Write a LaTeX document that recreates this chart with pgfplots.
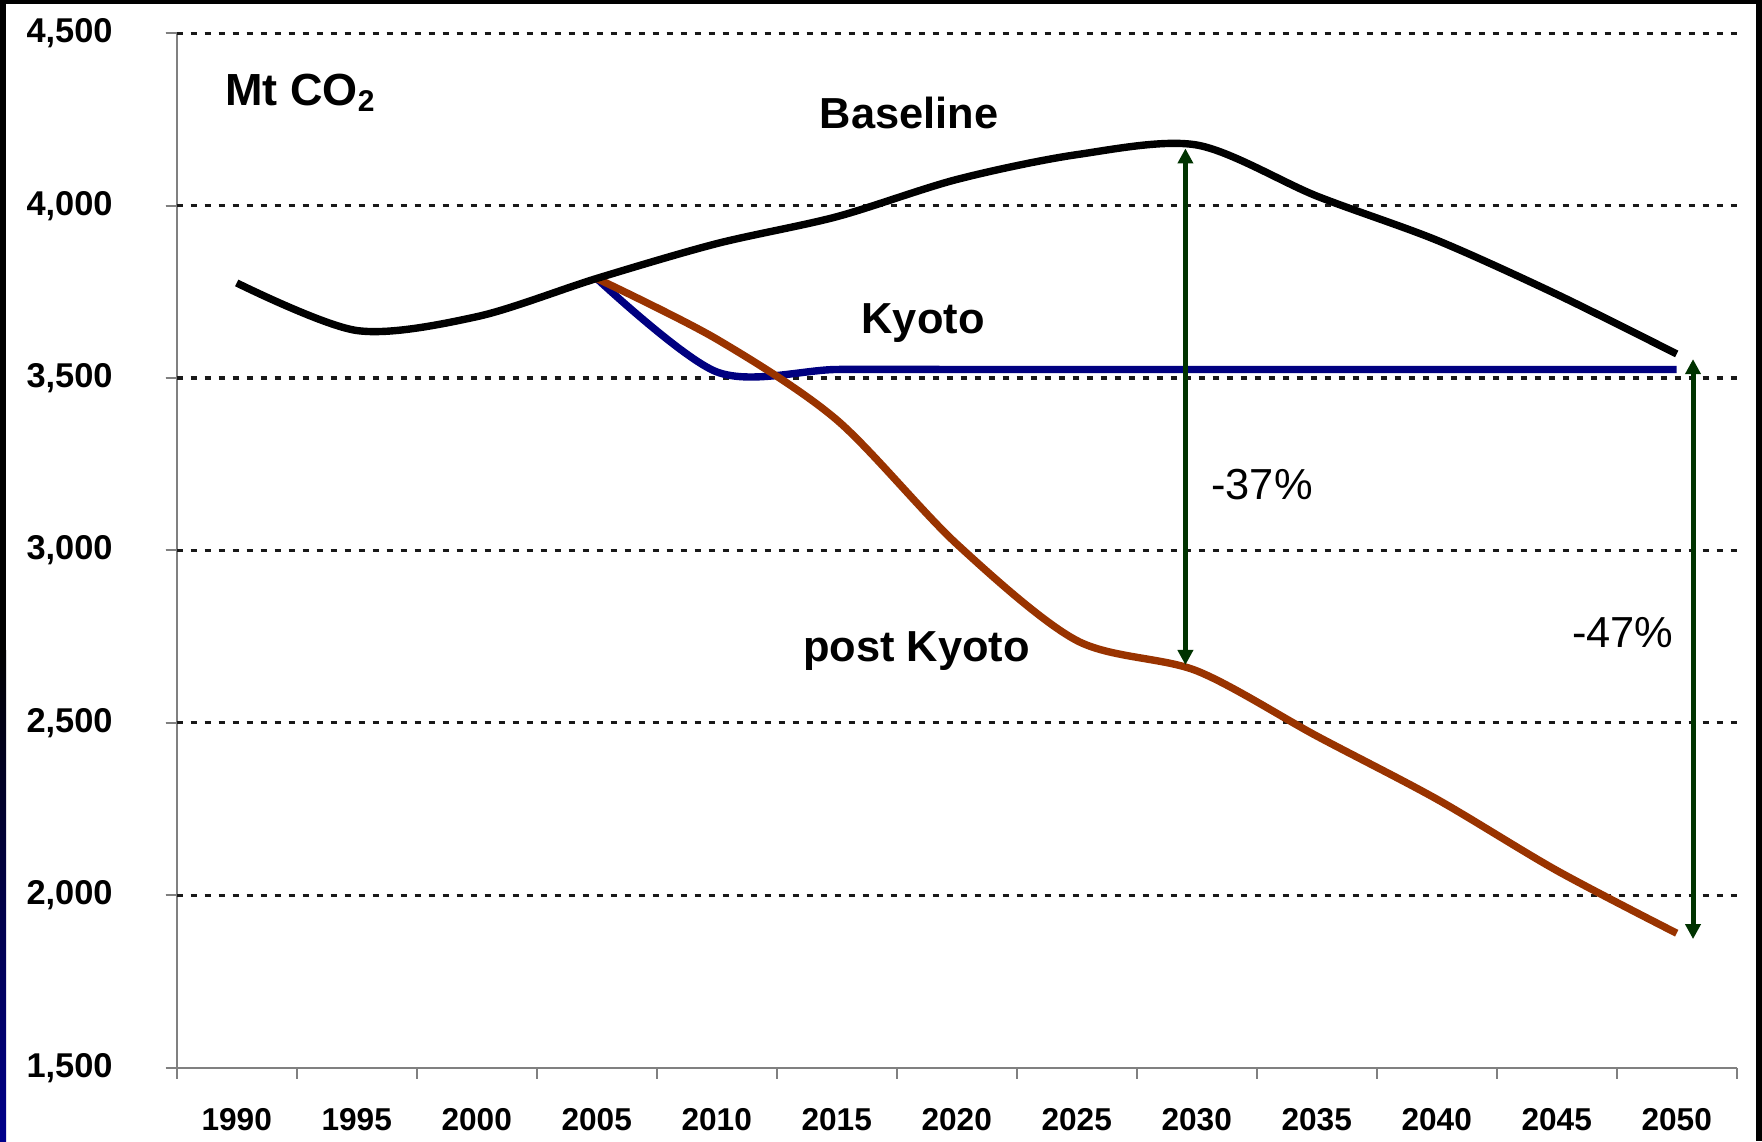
\documentclass[border=0pt]{standalone}
\usepackage{pgfplots}
\pgfplotsset{compat=1.18}
\usepackage{fontspec}
\setmainfont{Liberation Sans}
\usetikzlibrary{arrows.meta}
\definecolor{navyline}{RGB}{0,0,128}
\definecolor{brownline}{RGB}{153,51,0}
\definecolor{arrowgreen}{RGB}{0,51,0}
\definecolor{axisgray}{RGB}{128,128,128}
\begin{document}
\begin{tikzpicture}
\useasboundingbox (0,0) rectangle (881pt,570.5pt);
\fill[black] (0,0) rectangle (881pt,570.5pt);
\fill[white] (3pt,0) rectangle (878pt,568.5pt);
\shade[top color=black,bottom color={rgb,255:red,0;green,0;blue,140}] (0,0) rectangle (3pt,245pt);
\begin{axis}[
  at={(88.35pt,36.65pt)}, anchor=south west,
  scale only axis, width=780pt, height=517.2pt,
  xmin=1987.5, xmax=2052.5, ymin=1500, ymax=4500,
  axis lines=left, axis line style={-, draw=axisgray, line width=1pt},
  clip=false,
  tick align=outside,
  xtick={1990,1995,...,2050},
  minor xtick={1987.5,1992.5,...,2052.5},
  major x tick style={draw=none},
  minor tick length=5.5pt, major tick length=5.5pt,
  tick style={draw=axisgray, line width=1pt},
  ytick={1500,2000,...,4500},
  extra y ticks={2000,2500,3000,3500,4000,4500},
  extra y tick labels={},
  extra y tick style={grid=major},
  major grid style={black!90, line width=1.6pt, dash pattern=on 3pt off 4pt},
  scaled ticks=false,
  /pgf/number format/assume math mode=true,
  x tick label style={/pgf/number format/1000 sep={}, yshift=-11.25pt, font=\fontsize{15.8}{18}\selectfont\bfseries},
  y tick label style={/pgf/number format/1000 sep={,}, xshift=-23pt, font=\fontsize{17.2}{19}\selectfont\bfseries},
]
\addplot[navyline, line width=3.7pt, smooth] coordinates {(2005,3789)(2010,3518)(2015,3525)(2020,3525)(2025,3525)(2030,3525)(2035,3525)(2040,3525)(2045,3525)(2050,3525)};
\addplot[brownline, line width=3.7pt, smooth] coordinates {(2005,3789)(2010,3613)(2015,3379)(2020,3019)(2025,2739)(2030,2651)(2035,2462)(2040,2279)(2045,2072)(2050,1890)};
\addplot[black, line width=3.7pt, smooth] coordinates {(1990,3776)(1995,3638)(2000,3678)(2005,3789)(2010,3890)(2015,3968)(2020,4076)(2025,4148)(2030,4176)(2035,4028)(2040,3900)(2045,3743)(2050,3570)};
\addplot[arrowgreen, line width=2.5pt, {Triangle[width=7.5pt,length=7.5pt]}-{Triangle[width=7.5pt,length=7.5pt]}] coordinates {(2029.53,2668)(2029.53,4166)};
\addplot[arrowgreen, line width=2.5pt, {Triangle[width=7.5pt,length=7.5pt]}-{Triangle[width=7.5pt,length=7.5pt]}] coordinates {(2050.68,1873)(2050.68,3555)};
\node[anchor=base west, inner sep=0pt, font=\fontsize{22.5}{26}\selectfont\bfseries] at (axis cs:1989.51,4292) {Mt CO\raisebox{-3.3pt}{\fontsize{15}{17}\selectfont 2}};
\node[anchor=base, font=\fontsize{21.7}{25}\selectfont\bfseries] at (axis cs:2018.01,4224.5) {Baseline};
\node[anchor=base, font=\fontsize{21.7}{25}\selectfont\bfseries] at (axis cs:2018.6,3628) {Kyoto};
\node[anchor=base, font=\fontsize{21.7}{25}\selectfont\bfseries] at (axis cs:2018.33,2678) {post Kyoto};
\node[anchor=base, font=\fontsize{21.7}{25}\selectfont] at (axis cs:2032.72,3147) {-37\%};
\node[anchor=base, font=\fontsize{21.7}{25}\selectfont] at (axis cs:2047.75,2719) {-47\%};
\end{axis}
\end{tikzpicture}
\end{document}
